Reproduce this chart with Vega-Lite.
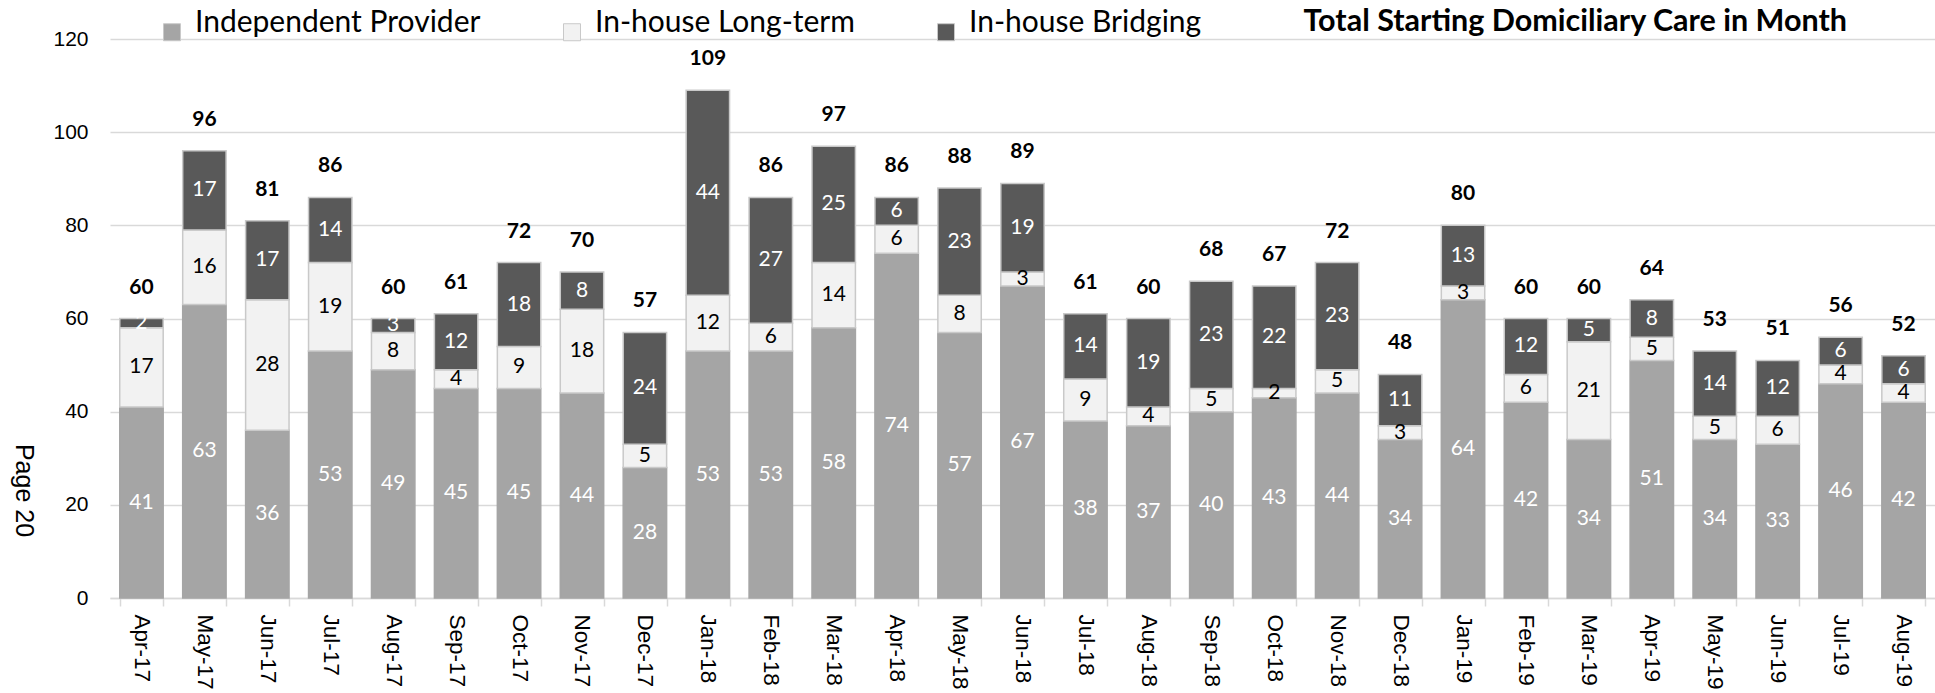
{
  "$schema": "https://vega.github.io/schema/vega-lite/v6.json",
  "autosize": {"type": "none"},
  "padding": {"left": 110, "top": 39, "right": 0, "bottom": 95},
  "width": 1825,
  "height": 559,
  "background": "white",
  "config": {"view": {"stroke": null}, "font": "Lato"},
  "title": {
    "text": "Total Starting Domiciliary Care in Month",
    "orient": "top", "anchor": "end", "frame": "group", "dx": -88, "offset": -44,
    "baseline": "alphabetic", "font": "Lato", "fontSize": 30.5, "fontWeight": "bold", "color": "#000000"
  },
  "data": {
    "values": [
      {"Month": "Apr-17", "Independent Provider": 41, "In-house Long-term": 17, "In-house Bridging": 2, "Total": 60},
      {"Month": "May-17", "Independent Provider": 63, "In-house Long-term": 16, "In-house Bridging": 17, "Total": 96},
      {"Month": "Jun-17", "Independent Provider": 36, "In-house Long-term": 28, "In-house Bridging": 17, "Total": 81},
      {"Month": "Jul-17", "Independent Provider": 53, "In-house Long-term": 19, "In-house Bridging": 14, "Total": 86},
      {"Month": "Aug-17", "Independent Provider": 49, "In-house Long-term": 8, "In-house Bridging": 3, "Total": 60},
      {"Month": "Sep-17", "Independent Provider": 45, "In-house Long-term": 4, "In-house Bridging": 12, "Total": 61},
      {"Month": "Oct-17", "Independent Provider": 45, "In-house Long-term": 9, "In-house Bridging": 18, "Total": 72},
      {"Month": "Nov-17", "Independent Provider": 44, "In-house Long-term": 18, "In-house Bridging": 8, "Total": 70},
      {"Month": "Dec-17", "Independent Provider": 28, "In-house Long-term": 5, "In-house Bridging": 24, "Total": 57},
      {"Month": "Jan-18", "Independent Provider": 53, "In-house Long-term": 12, "In-house Bridging": 44, "Total": 109},
      {"Month": "Feb-18", "Independent Provider": 53, "In-house Long-term": 6, "In-house Bridging": 27, "Total": 86},
      {"Month": "Mar-18", "Independent Provider": 58, "In-house Long-term": 14, "In-house Bridging": 25, "Total": 97},
      {"Month": "Apr-18", "Independent Provider": 74, "In-house Long-term": 6, "In-house Bridging": 6, "Total": 86},
      {"Month": "May-18", "Independent Provider": 57, "In-house Long-term": 8, "In-house Bridging": 23, "Total": 88},
      {"Month": "Jun-18", "Independent Provider": 67, "In-house Long-term": 3, "In-house Bridging": 19, "Total": 89},
      {"Month": "Jul-18", "Independent Provider": 38, "In-house Long-term": 9, "In-house Bridging": 14, "Total": 61},
      {"Month": "Aug-18", "Independent Provider": 37, "In-house Long-term": 4, "In-house Bridging": 19, "Total": 60},
      {"Month": "Sep-18", "Independent Provider": 40, "In-house Long-term": 5, "In-house Bridging": 23, "Total": 68},
      {"Month": "Oct-18", "Independent Provider": 43, "In-house Long-term": 2, "In-house Bridging": 22, "Total": 67},
      {"Month": "Nov-18", "Independent Provider": 44, "In-house Long-term": 5, "In-house Bridging": 23, "Total": 72},
      {"Month": "Dec-18", "Independent Provider": 34, "In-house Long-term": 3, "In-house Bridging": 11, "Total": 48},
      {"Month": "Jan-19", "Independent Provider": 64, "In-house Long-term": 3, "In-house Bridging": 13, "Total": 80},
      {"Month": "Feb-19", "Independent Provider": 42, "In-house Long-term": 6, "In-house Bridging": 12, "Total": 60},
      {"Month": "Mar-19", "Independent Provider": 34, "In-house Long-term": 21, "In-house Bridging": 5, "Total": 60},
      {"Month": "Apr-19", "Independent Provider": 51, "In-house Long-term": 5, "In-house Bridging": 8, "Total": 64},
      {"Month": "May-19", "Independent Provider": 34, "In-house Long-term": 5, "In-house Bridging": 14, "Total": 53},
      {"Month": "Jun-19", "Independent Provider": 33, "In-house Long-term": 6, "In-house Bridging": 12, "Total": 51},
      {"Month": "Jul-19", "Independent Provider": 46, "In-house Long-term": 4, "In-house Bridging": 6, "Total": 56},
      {"Month": "Aug-19", "Independent Provider": 42, "In-house Long-term": 4, "In-house Bridging": 6, "Total": 52}
    ]
  },
  "encoding": {
    "x": {
      "field": "Month", "type": "nominal", "sort": null,
      "scale": {"paddingInner": 0.31, "paddingOuter": 0.155},
      "axis": {
        "title": null, "labelAngle": 90, "labelAlign": "left", "labelBaseline": "middle",
        "labelFont": "Liberation Sans", "labelFontSize": 22.5, "labelColor": "#000000",
        "labelPadding": 8, "ticks": true, "tickBand": "extent", "tickSize": 8,
        "tickColor": "#d9d9d9", "tickWidth": 1.5, "domainColor": "#d9d9d9", "domainWidth": 1.5,
        "grid": false
      }
    }
  },
  "layer": [
    {
      "transform": [{"fold": ["Independent Provider", "In-house Long-term", "In-house Bridging"], "as": ["Series", "Value"]}],
      "mark": {"type": "bar", "strokeWidth": 1.5},
      "encoding": {
        "y": {
          "field": "Value", "type": "quantitative", "stack": "zero",
          "scale": {"domain": [0, 120], "nice": false},
          "axis": {
            "values": [0, 20, 40, 60, 80, 100, 120],
            "title": "Page 20", "titleAngle": 90, "titleFont": "Liberation Sans", "titleFontSize": 25,
            "titleFontWeight": "normal", "titleColor": "#000000", "titleX": -87, "titleY": 451,
            "titleAlign": "center", "titleBaseline": "middle",
            "labelFont": "Liberation Sans", "labelFontSize": 21, "labelColor": "#000000", "labelPadding": 22,
            "ticks": false, "domain": false, "grid": true, "gridColor": "#d9d9d9", "gridWidth": 1.5
          }
        },
        "order": {"field": "Series", "sort": "descending"},
        "color": {
          "field": "Series", "type": "nominal",
          "sort": ["Independent Provider", "In-house Long-term", "In-house Bridging"],
          "scale": {
            "domain": ["Independent Provider", "In-house Long-term", "In-house Bridging"],
            "range": ["#a5a5a5", "#f2f2f2", "#595959"]
          },
          "legend": {
            "title": null, "orient": "none", "direction": "horizontal", "legendX": 47, "legendY": -22,
            "symbolType": "square", "symbolSize": 290, "symbolStrokeWidth": 1, "symbolStrokeColor": "#c9c9c9", "symbolOpacity": 1,
            "labelFont": "Lato", "labelFontSize": 30, "labelColor": "#000000", "labelOffset": 8, "labelLimit": 800,
            "labelBaseline": "alphabetic",
            "columnPadding": 76
          }
        },
        "stroke": {
          "condition": {"test": "datum.Series === 'Independent Provider'", "value": "#a5a5a5"},
          "value": "#c9c9c9"
        }
      }
    },
    {
      "transform": [{"fold": ["Independent Provider", "In-house Long-term", "In-house Bridging"], "as": ["Series", "Value"]}],
      "mark": {"type": "text", "font": "Lato", "fontSize": 21, "baseline": "middle", "align": "center"},
      "encoding": {
        "y": {"field": "Value", "type": "quantitative", "stack": "zero", "bandPosition": 0.5},
        "order": {"field": "Series", "sort": "descending"},
        "detail": {"field": "Series", "type": "nominal"},
        "color": {
          "condition": {"test": "datum.Series === 'In-house Long-term'", "value": "#000000"},
          "value": "#ffffff"
        },
        "text": {"field": "Value", "type": "quantitative"}
      }
    },
    {
      "mark": {"type": "text", "font": "Lato", "fontSize": 21, "fontWeight": "bold", "baseline": "alphabetic", "align": "center", "dy": -25, "color": "#000000"},
      "encoding": {
        "y": {"field": "Total", "type": "quantitative"},
        "text": {"field": "Total", "type": "quantitative"}
      }
    }
  ]
}
